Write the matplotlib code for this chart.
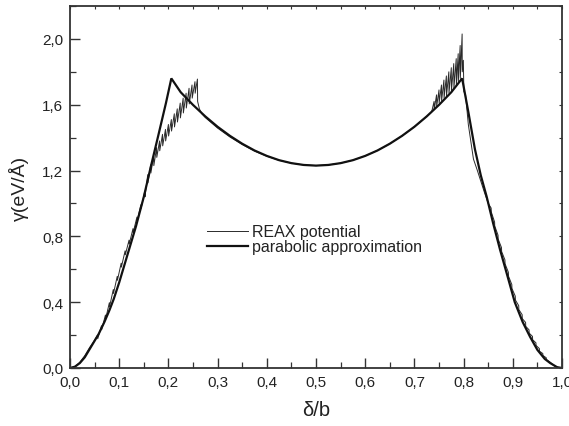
import numpy as np
import matplotlib
matplotlib.use("Agg")
import matplotlib.pyplot as plt
from matplotlib.ticker import MultipleLocator, FuncFormatter

# ---------------- data ----------------
# parabolic approximation (bold)
para_x = [0.0, 0.01, 0.02, 0.03, 0.037, 0.045, 0.058, 0.07, 0.08, 0.089, 0.10, 0.11, 0.12, 0.134,
          0.15, 0.164, 0.18, 0.195, 0.206,
          0.225, 0.25, 0.275, 0.30, 0.325, 0.35, 0.375, 0.40, 0.425, 0.45, 0.475, 0.50,
          0.525, 0.55, 0.575, 0.60, 0.625, 0.65, 0.675, 0.70, 0.725, 0.75, 0.775, 0.797,
          0.81, 0.823, 0.835, 0.847, 0.86, 0.874, 0.89, 0.904, 0.92, 0.935, 0.95, 0.965,
          0.976, 0.99, 1.0]
para_y = [0.0, 0.008, 0.03, 0.065, 0.10, 0.14, 0.205, 0.28, 0.35, 0.42, 0.52, 0.62, 0.72, 0.86,
          1.04, 1.22, 1.42, 1.61, 1.76,
          1.676, 1.599, 1.529, 1.466, 1.411, 1.363, 1.322, 1.289, 1.263, 1.245, 1.234, 1.23,
          1.234, 1.245, 1.263, 1.289, 1.322, 1.363, 1.411, 1.466, 1.529, 1.599, 1.676, 1.76,
          1.55, 1.33, 1.17, 1.04, 0.88, 0.72, 0.55, 0.40, 0.28, 0.19, 0.11, 0.055,
          0.03, 0.005, 0.0]

# REAX potential (thin) : smooth start
reax_start_x = [0.0, 0.01, 0.02, 0.03, 0.04, 0.048]
reax_start_y = [0.0, 0.008, 0.035, 0.075, 0.125, 0.16]

# left saw-tooth region: drop positions, value before drop, value after drop
left_tooth_x = [0.056, 0.064, 0.072, 0.080, 0.088, 0.096, 0.104, 0.112, 0.120, 0.128, 0.136,
                0.144, 0.152, 0.158, 0.164, 0.170, 0.176, 0.182, 0.188, 0.194, 0.200, 0.206,
                0.212, 0.218, 0.224, 0.230, 0.236, 0.242, 0.248, 0.254, 0.259]
left_tooth_top = [0.20, 0.257, 0.322, 0.397, 0.477, 0.557, 0.637, 0.712, 0.777, 0.847, 0.917,
                  0.992, 1.075, 1.175, 1.235, 1.29, 1.34, 1.38, 1.42, 1.45, 1.48, 1.51,
                  1.545, 1.575, 1.61, 1.64, 1.67, 1.70, 1.72, 1.74, 1.756]
left_tooth_low = [0.178, 0.233, 0.298, 0.373, 0.453, 0.533, 0.613, 0.688, 0.753, 0.823, 0.893,
                  0.968, 1.04, 1.125, 1.185, 1.23, 1.28, 1.32, 1.35, 1.38, 1.41, 1.44,
                  1.465, 1.495, 1.52, 1.55, 1.58, 1.605, 1.64, 1.67, 1.62]

# middle part following the parabola
reax_mid_x = [0.263, 0.268, 0.275, 0.30, 0.325, 0.35, 0.375, 0.40, 0.425, 0.45, 0.475, 0.50,
              0.525, 0.55, 0.575, 0.60, 0.625, 0.65, 0.675, 0.70, 0.725, 0.735]
reax_mid_y = [1.575, 1.545, 1.522, 1.458, 1.404, 1.358, 1.318, 1.287, 1.262, 1.245, 1.234, 1.23,
              1.234, 1.245, 1.263, 1.289, 1.322, 1.363, 1.411, 1.466, 1.529, 1.556]

# right saw-tooth region
right_tooth_x = [0.740, 0.745, 0.750, 0.755, 0.760, 0.765, 0.770, 0.775, 0.780, 0.785, 0.789, 0.793, 0.797]
right_tooth_top = [1.62, 1.66, 1.69, 1.72, 1.75, 1.775, 1.80, 1.825, 1.85, 1.88, 1.91, 1.96, 2.03]
right_tooth_low = [1.57, 1.59, 1.61, 1.625, 1.64, 1.655, 1.67, 1.685, 1.70, 1.72, 1.74, 1.76, 1.80]

# after the right peak
reax_drop_x = [0.7995, 0.8005, 0.804, 0.8096, 0.820, 0.828, 0.842, 0.85]
reax_drop_y = [1.87, 1.68, 1.66, 1.48, 1.27, 1.20, 1.07, 1.00]

# right stairs on the descending branch
right_stair_x = [0.856, 0.863, 0.870, 0.877, 0.884, 0.891, 0.898, 0.905, 0.912, 0.919, 0.926,
                 0.933, 0.940, 0.947, 0.954, 0.961, 0.968]
right_stair_hi = [0.972, 0.887, 0.807, 0.732, 0.657, 0.582, 0.507, 0.437, 0.379, 0.324, 0.277,
                  0.232, 0.192, 0.153, 0.118, 0.088, 0.062]
right_stair_lo = [0.948, 0.863, 0.783, 0.708, 0.633, 0.558, 0.483, 0.413, 0.355, 0.300, 0.253,
                  0.212, 0.172, 0.137, 0.102, 0.076, 0.052]

reax_end_x = [0.976, 0.985, 0.993, 1.0]
reax_end_y = [0.035, 0.012, 0.003, 0.0]

x_ticks = [0.0, 0.1, 0.2, 0.3, 0.4, 0.5, 0.6, 0.7, 0.8, 0.9, 1.0]
y_ticks = [0.0, 0.4, 0.8, 1.2, 1.6, 2.0]

# ---------------- build the thin curve ----------------
def teeth(xs, tops, lows, eps=0.0004):
    px, py = [], []
    for x, t, l in zip(xs, tops, lows):
        px += [x, x + eps]
        py += [t, l]
    return px, py

lx, ly = teeth(left_tooth_x, left_tooth_top, left_tooth_low)
rx, ry = teeth(right_tooth_x, right_tooth_top, right_tooth_low, eps=0.0003)
sx, sy = teeth(right_stair_x, right_stair_hi, right_stair_lo, eps=0.0003)

reax_x = reax_start_x + lx + reax_mid_x + rx + reax_drop_x + sx + reax_end_x
reax_y = reax_start_y + ly + reax_mid_y + ry + reax_drop_y + sy + reax_end_y

# ---------------- figure ----------------
plt.rcParams['font.family'] = ['Liberation Sans', 'DejaVu Sans']
fig = plt.figure(figsize=(5.69, 4.27), dpi=100)
ax = fig.add_axes([70/569, 58/427, 492/569, 362/427])

l1, = ax.plot(reax_x, reax_y, color='#2a2a2a', lw=0.7, label='REAX potential')
l2, = ax.plot(para_x, para_y, color='#111111', lw=1.6, label='parabolic approximation',
              solid_joinstyle='miter')

ax.set_xlim(0, 1.0)
ax.set_ylim(0, 2.2)
ax.set_xticks(x_ticks)
ax.set_yticks(y_ticks)
ax.xaxis.set_minor_locator(MultipleLocator(0.05))
ax.yaxis.set_minor_locator(MultipleLocator(0.2))
fmt = FuncFormatter(lambda v, p: f"{v:.1f}".replace('.', ','))
ax.xaxis.set_major_formatter(fmt)
ax.yaxis.set_major_formatter(fmt)

tc = '#333333'
ax.tick_params(which='major', direction='in', length=7, width=1.0, color=tc,
               labelsize=11, labelcolor='#222222')
ax.tick_params(axis='x', which='major', pad=5)
ax.tick_params(axis='y', which='major', pad=5)
ax.tick_params(which='minor', direction='in', length=4, width=0.9, color=tc)
for s in ax.spines.values():
    s.set_color(tc)
    s.set_linewidth(1.3)

sec_r = ax.secondary_yaxis('right')
sec_r.set_yticks(np.arange(0, 2.21, 0.2))
sec_r.tick_params(direction='in', length=2, width=0.8, color=tc, labelright=False)
sec_r.spines['right'].set_visible(False)

sec_t = ax.secondary_xaxis('top')
sec_t.set_xticks(np.arange(0, 1.001, 0.05))
sec_t.tick_params(direction='in', length=2, width=0.8, color=tc, labeltop=False)
sec_t.spines['top'].set_visible(False)

ax.set_xlabel('δ/b', fontsize=14.5, color='#222222', labelpad=8)
ax.set_ylabel('γ(eV/Å)', fontsize=14, color='#222222', labelpad=9)

leg = ax.legend(handles=[l1, l2], loc='center left', bbox_to_anchor=(0.278, 0.356),
                frameon=False, fontsize=11.5, handlelength=2.6, handletextpad=0.25,
                borderpad=0, labelspacing=0.0, borderaxespad=0)
for t in leg.get_texts():
    t.set_color('#222222')

fig.savefig('out.png', dpi=100)
